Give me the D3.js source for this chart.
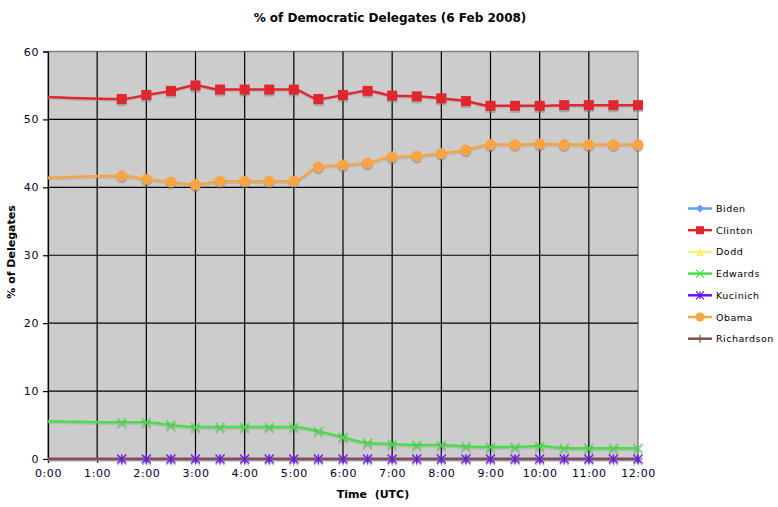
<!DOCTYPE html>
<html>
<head>
<meta charset="utf-8">
<script src="https://cdn.jsdelivr.net/npm/d3@7"></script>
<style>
	body { margin: 0; background: #ffffff; }
	svg { font-family: "DejaVu Sans", Verdana, sans-serif; }
	.tick_label { font-size: 11px; fill: #000033; letter-spacing: 0.6px; }
	.axis_title { font-size: 11px; font-weight: bold; fill: #000000; }
	.legend_text { font-size: 9.5px; fill: #000000; letter-spacing: 0.5px; }
</style>
</head>
<body>
<div id="div_id_main"></div>
<script>

// ---- data ------------------------------------------------------------

let g_vTimes = ["0:00", "1:30", "2:00", "2:30", "3:00", "3:30", "4:00", "4:30", "5:00", "5:30", "6:00", "6:30",
				"7:00", "7:30", "8:00", "8:30", "9:00", "9:30", "10:00", "10:30", "11:00", "11:30", "12:00"];

let g_vClinton = [53.3, 53.0, 53.6, 54.2, 55.0, 54.4, 54.4, 54.4, 54.4, 53.0, 53.6, 54.2,
				  53.5, 53.4, 53.1, 52.7, 52.0, 52.0, 52.0, 52.1, 52.1, 52.1, 52.1];

let g_vObama = [41.4, 41.7, 41.2, 40.8, 40.4, 40.9, 40.9, 40.9, 40.9, 43.0, 43.3, 43.6,
				44.5, 44.6, 45.0, 45.5, 46.3, 46.3, 46.4, 46.3, 46.3, 46.3, 46.3];

let g_vEdwards = [5.55, 5.4, 5.4, 5.0, 4.7, 4.7, 4.7, 4.7, 4.7, 4.1, 3.2, 2.35,
				  2.2, 2.05, 2.05, 1.85, 1.75, 1.75, 1.9, 1.6, 1.6, 1.6, 1.6];

let g_vKucinich = [0, 0, 0, 0, 0, 0, 0, 0, 0, 0, 0, 0, 0, 0, 0, 0, 0, 0, 0, 0, 0, 0, 0];

let g_vRichardson = [0, 0, 0, 0, 0, 0, 0, 0, 0, 0, 0, 0, 0, 0, 0, 0, 0, 0, 0, 0, 0, 0, 0];

let g_vBiden = [];
let g_vDodd = [];

let g_vCandidates = ["Biden", "Clinton", "Dodd", "Edwards", "Kucinich", "Obama", "Richardson"];

let g_vXTicks = ["0:00", "1:00", "2:00", "3:00", "4:00", "5:00", "6:00", "7:00", "8:00", "9:00", "10:00", "11:00", "12:00"];

let g_vYTicks = [0, 10, 20, 30, 40, 50, 60];

// ----------------------------------------------------------------------

const WIDTH = 778, HEIGHT = 507;
const PLOT_L = 48, PLOT_R = 638, PLOT_T = 51.5, PLOT_B = 459;

let g_dsSeries = {
	"Biden":      { values: g_vBiden,      color: "#5c9ff2", shape: "diamond" },
	"Clinton":    { values: g_vClinton,    color: "#e0262e", shape: "square" },
	"Dodd":       { values: g_vDodd,       color: "#fff27a", shape: "triangle" },
	"Edwards":    { values: g_vEdwards,    color: "#47e047", shape: "x" },
	"Kucinich":   { values: g_vKucinich,   color: "#6a12ff", shape: "asterisk" },
	"Obama":      { values: g_vObama,      color: "#fba443", shape: "circle" },
	"Richardson": { values: g_vRichardson, color: "#7b5252", shape: "plus" }
};

function funcHours(s) {
	let p = s.split(":");
	return +p[0] + (+p[1]) / 60;
}

function funcMarker(g, shape, color, size) {
	let h = size / 2;
	if (shape == "square")
		g.append("rect").attr("x", -h).attr("y", -h).attr("width", size).attr("height", size).attr("fill", color);
	else if (shape == "circle")
		g.append("circle").attr("r", h + 0.5).attr("fill", color);
	else if (shape == "diamond")
		g.append("path").attr("d", "M0," + (-h) + "L" + h + ",0L0," + h + "L" + (-h) + ",0Z").attr("fill", color);
	else if (shape == "triangle")
		g.append("path").attr("d", "M0," + (-h) + "L" + h + "," + h + "L" + (-h) + "," + h + "Z").attr("fill", color);
	else if (shape == "x")
		g.append("path").attr("d", "M" + (-h) + "," + (-h) + "L" + h + "," + h + "M" + h + "," + (-h) + "L" + (-h) + "," + h)
			.attr("stroke", color).attr("stroke-width", 1.2).attr("fill", "none");
	else if (shape == "asterisk")
		g.append("path").attr("d", "M" + (-h) + "," + (-h) + "L" + h + "," + h + "M" + h + "," + (-h) + "L" + (-h) + "," + h +
									"M0," + (-h) + "L0," + h)
			.attr("stroke", color).attr("stroke-width", 1.2).attr("fill", "none");
	else if (shape == "plus")
		g.append("path").attr("d", "M0," + (-h) + "L0," + h + "M" + (-h) + ",0L" + h + ",0")
			.attr("stroke", color).attr("stroke-width", 1.2).attr("fill", "none");
}

function funcDraw_Main() {

	let fScale_X = d3.scaleLinear().domain([0, 12]).range([PLOT_L, PLOT_R]);
	let fScale_Y = d3.scaleLinear().domain([0, 60]).range([PLOT_B, PLOT_T]);

	let svgMain = d3.select("#div_id_main")
					.append("svg")
						.attr("width", WIDTH)
						.attr("height", HEIGHT);

	svgMain.append("text")
				.attr("x", 390)
				.attr("y", 22)
				.attr("text-anchor", "middle")
				.attr("font-size", "12px")
				.attr("font-weight", "bold")
				.text("% of Democratic Delegates (6 Feb 2008)");

	// plot background
	svgMain.append("rect")
				.attr("x", PLOT_L)
				.attr("y", PLOT_T)
				.attr("width", PLOT_R - PLOT_L)
				.attr("height", PLOT_B - PLOT_T)
				.attr("fill", "#cccccc")
				.attr("stroke", "#808080")
				.attr("stroke-width", 1.5);

	// grid
	svgMain.selectAll("line.grid_x")
			.data(g_vXTicks.slice(1, -1))
			.enter()
				.append("line")
					.attr("class", "grid_x")
					.attr("x1", d => fScale_X(funcHours(d)))
					.attr("x2", d => fScale_X(funcHours(d)))
					.attr("y1", PLOT_T)
					.attr("y2", PLOT_B)
					.attr("stroke", "#000000")
					.attr("stroke-width", 1.2);

	svgMain.selectAll("line.grid_y")
			.data(g_vYTicks.slice(1, -1))
			.enter()
				.append("line")
					.attr("class", "grid_y")
					.attr("x1", PLOT_L)
					.attr("x2", PLOT_R)
					.attr("y1", d => fScale_Y(d))
					.attr("y2", d => fScale_Y(d))
					.attr("stroke", "#000000")
					.attr("stroke-width", 1.2);

	// axes
	let axisY = svgMain.append("g")
					.attr("transform", "translate(" + PLOT_L + ",0)")
					.call(d3.axisLeft(fScale_Y).tickValues(g_vYTicks).tickSize(5).tickPadding(4).tickFormat(d3.format("d")));

	let axisX = svgMain.append("g")
					.attr("transform", "translate(0," + PLOT_B + ")")
					.call(d3.axisBottom(fScale_X).tickValues(g_vXTicks.map(funcHours)).tickSize(4).tickPadding(6)
							.tickFormat((d, i) => g_vXTicks[i]));

	[axisX, axisY].forEach(function(a) {
		a.attr("font-family", "DejaVu Sans, Verdana, sans-serif").attr("font-size", 11);
		a.select(".domain").attr("stroke", "#000000").attr("stroke-width", 1.2);
		a.selectAll(".tick line").attr("stroke", "#000000").attr("stroke-width", 1.2);
		a.selectAll(".tick text").attr("class", "tick_label").attr("fill", null);
	});

	svgMain.append("text")
				.attr("class", "axis_title")
				.attr("x", 373)
				.attr("y", 498)
				.attr("text-anchor", "middle")
				.attr("xml:space", "preserve")
				.text("Time  (UTC)");

	svgMain.append("text")
				.attr("class", "axis_title")
				.attr("transform", "translate(15,252) rotate(-90)")
				.attr("text-anchor", "middle")
				.text("% of Delegates");

	// lines
	let fLine = d3.line()
					.x((d, i) => fScale_X(funcHours(g_vTimes[i])))
					.y(d => fScale_Y(d))
					.curve(d3.curveMonotoneX);

	let gLines = svgMain.append("g");

	let vOrder = ["Biden", "Clinton", "Dodd", "Edwards", "Kucinich", "Obama", "Richardson"];

	for (let name of vOrder) {
		let s = g_dsSeries[name];
		if (s.values.length == 0) continue;

		gLines.append("path")
				.attr("d", fLine(s.values))
				.attr("transform", "translate(0,1.5)")
				.attr("fill", "none")
				.attr("stroke", "#999999")
				.attr("stroke-opacity", 0.35)
				.attr("stroke-width", 2.5);

		gLines.append("path")
				.attr("d", fLine(s.values))
				.attr("fill", "none")
				.attr("stroke", s.color)
				.attr("stroke-width", 2.5);
	}

	// markers (first point at 0:00 carries no marker)
	let vMarkerOrder = ["Clinton", "Obama", "Edwards", "Richardson", "Kucinich"];

	for (let name of vMarkerOrder) {
		let s = g_dsSeries[name];
		let size = (s.shape == "square") ? 10 : (s.shape == "circle" ? 10 : 9);

		s.values.forEach(function(v, i) {
			if (i == 0) return;
			let x = fScale_X(funcHours(g_vTimes[i]));
			let y = fScale_Y(v);

			let gShadow = svgMain.append("g")
							.attr("transform", "translate(" + x + "," + (y + 2) + ")")
							.attr("opacity", 0.45);
			funcMarker(gShadow, s.shape, "#777777", size);

			let gMark = svgMain.append("g")
							.attr("transform", "translate(" + x + "," + y + ")");
			funcMarker(gMark, s.shape, s.color, size);
		});
	}

	// legend
	let gLegend = svgMain.append("g");

	g_vCandidates.forEach(function(name, i) {
		let s = g_dsSeries[name];
		let y = 208.5 + i * 21.7;

		gLegend.append("line")
					.attr("x1", 688)
					.attr("x2", 712)
					.attr("y1", y)
					.attr("y2", y)
					.attr("stroke", s.color)
					.attr("stroke-width", 2.5);

		let gMark = gLegend.append("g").attr("transform", "translate(700," + y + ")");
		funcMarker(gMark, s.shape, s.color, 8);

		gLegend.append("text")
					.attr("class", "legend_text")
					.attr("x", 716)
					.attr("y", y + 3.5)
					.text(name);
	});
}

funcDraw_Main();

</script>
</body>
</html>
